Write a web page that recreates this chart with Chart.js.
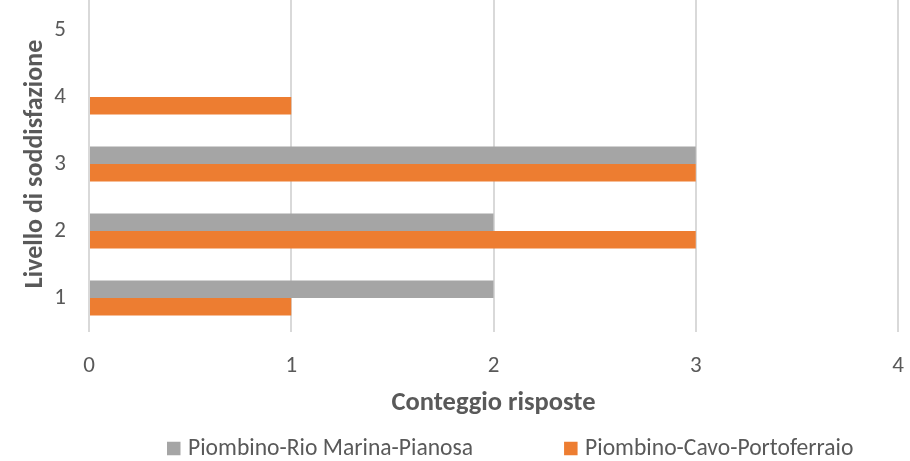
<!DOCTYPE html>
<html>
<head>
<meta charset="utf-8">
<script src="https://cdn.jsdelivr.net/npm/chart.js@4.4.1/dist/chart.umd.min.js"></script>
<style>
  html, body { margin: 0; padding: 0; background: #ffffff; }
  #wrap { position: relative; width: 910px; height: 461px; overflow: hidden; }
  #c { position: absolute; left: 0; top: -20px; }
</style>
</head>
<body>
<div id="wrap"><canvas id="c" width="910" height="481"></canvas></div>
<script>
// Satisfaction levels (1 = lowest) and the response counts per ferry route
const levels = ['1', '2', '3', '4', '5'];
const rioMarinaPianosa = [2, 2, 3, 0, 0];
const cavoPortoferraio = [1, 3, 3, 1, 0];
const countTicks = [0, 1, 2, 3, 4];
const seriesNames = ['Piombino-Rio Marina-Pianosa', 'Piombino-Cavo-Portoferraio'];
const xTitle = 'Conteggio risposte';
const yTitle = 'Livello di soddisfazione';

const FONT = 'Carlito, Lato, "Liberation Sans", sans-serif';
const TEXT = '#595959';
const GREY = '#A5A5A5';
const ORANGE = '#ED7D31';

// category axis runs top-to-bottom, so list the highest level first
const rows = levels.slice().reverse();
const rev = arr => arr.slice().reverse();

// legend drawn along the bottom edge with wide spacing between entries
const bottomLegend = {
  id: 'bottomLegend',
  afterDraw(chart) {
    const ctx = chart.ctx;
    ctx.save();
    ctx.font = '23.6px ' + FONT;
    ctx.textBaseline = 'middle';
    ctx.textAlign = 'left';
    let x = 167;
    const y = 468.5;
    const box = 13.5;
    chart.data.datasets.forEach(ds => {
      ctx.fillStyle = ds.backgroundColor;
      ctx.fillRect(x, y - box / 2, box, box);
      ctx.fillStyle = TEXT;
      ctx.fillText(ds.label, x + 21, y + 1);
      x += 21 + ctx.measureText(ds.label).width + 91;
    });
    ctx.restore();
  }
};

new Chart(document.getElementById('c'), {
  type: 'bar',
  data: {
    labels: rows,
    datasets: [
      { label: seriesNames[0], data: rev(rioMarinaPianosa), backgroundColor: GREY },
      { label: seriesNames[1], data: rev(cavoPortoferraio), backgroundColor: ORANGE }
    ]
  },
  options: {
    indexAxis: 'y',
    responsive: false,
    animation: false,
    events: [],
    categoryPercentage: 0.52,
    barPercentage: 1.0,
    layout: { padding: { left: 0, right: 12, top: 16.5, bottom: 39.5 } },
    plugins: {
      legend: { display: false },
      title: { display: false },
      tooltip: { enabled: false }
    },
    scales: {
      x: {
        type: 'linear',
        min: countTicks[0],
        max: countTicks[countTicks.length - 1],
        afterFit(scale) {
          scale.height = 90;
          scale.paddingLeft = 0;
          scale.paddingRight = 0;
        },
        afterBuildTicks(scale) { scale.ticks = countTicks.map(v => ({ value: v })); },
        ticks: { color: TEXT, font: { family: FONT, size: 23 }, padding: 21 },
        grid: { color: '#D9D9D9', lineWidth: 2, drawTicks: false },
        border: { display: false },
        title: {
          display: true,
          text: xTitle,
          color: TEXT,
          font: { family: FONT, size: 26.5, weight: 'bold' },
          padding: { top: 0, bottom: 2 }
        }
      },
      y: {
        type: 'category',
        afterFit(scale) {
          scale.width = 89;
          scale.paddingTop = 0;
          scale.paddingBottom = 0;
        },
        ticks: { color: TEXT, font: { family: FONT, size: 23 }, padding: 23 },
        grid: { display: false, drawTicks: false },
        border: { display: false },
        title: {
          display: true,
          text: yTitle,
          color: TEXT,
          font: { family: FONT, size: 26, weight: 'bold' },
          padding: { top: 20, bottom: 0 }
        }
      }
    }
  },
  plugins: [bottomLegend]
});
</script>
</body>
</html>
